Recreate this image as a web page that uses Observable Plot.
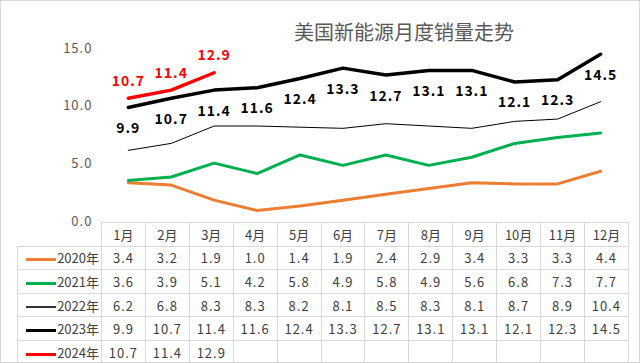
<!DOCTYPE html>
<html><head><meta charset="utf-8">
<script src="https://cdn.jsdelivr.net/npm/d3@7"></script>
<script src="https://cdn.jsdelivr.net/npm/@observablehq/plot@0.6"></script>
<style>
body{margin:0;background:#fff;font-family:"Noto Sans CJK SC","Noto Sans",sans-serif;}
#wrap{position:relative;width:640px;height:363px;box-sizing:border-box;border:1px solid #d9d9d9;overflow:hidden;background:#fff;}
#title{position:absolute;left:0;width:806px;top:16px;text-align:center;font-size:20px;color:#595959;}
#chart{position:absolute;left:-1px;top:-1px;}
#chart svg text{letter-spacing:1px;}
#tbl{position:absolute;left:16px;top:221px;border-collapse:collapse;table-layout:fixed;font-size:13px;color:#404040;}
#tbl td{border:1px solid #d9d9d9;height:22.6px;padding:0;text-align:center;white-space:nowrap;overflow:hidden;letter-spacing:1px;}
#tbl td.blank{border:none;}
#tbl td.leg{text-align:right;padding-right:2px;letter-spacing:0;}
.sw{display:inline-block;width:30px;vertical-align:middle;margin-right:1px;}
</style></head>
<body>
<div id="wrap">
<div id="chart"></div>
<div id="title">美国新能源月度销量走势</div>
<table id="tbl"></table>
</div>
<script>
const months = ["1月","2月","3月","4月","5月","6月","7月","8月","9月","10月","11月","12月"];
const years = ["2020年","2021年","2022年","2023年","2024年"];
const v2020 = [3.4,3.2,1.9,1.0,1.4,1.9,2.4,2.9,3.4,3.3,3.3,4.4];
const v2021 = [3.6,3.9,5.1,4.2,5.8,4.9,5.8,4.9,5.6,6.8,7.3,7.7];
const v2022 = [6.2,6.8,8.3,8.3,8.2,8.1,8.5,8.3,8.1,8.7,8.9,10.4];
const v2023 = [9.9,10.7,11.4,11.6,12.4,13.3,12.7,13.1,13.1,12.1,12.3,14.5];
const v2024 = [10.7,11.4,12.9];
const yTicks = [0,5,10,15];

const seriesValues = [v2020,v2021,v2022,v2023,v2024];
const colors = ["#ED7D31","#00B050","#000000","#000000","#FF0000"];
const widths = [3,3,1,3.5,3.5];

const series = years.map((y,k)=>({
  name:y, color:colors[k], width:widths[k],
  data: seriesValues[k].map((v,i)=>({month:months[i], value:v, series:y}))
}));

const marks = series.map(s => Plot.lineY(s.data,{x:"month",y:"value",stroke:s.color,strokeWidth:s.width}));
marks.push(Plot.text(series[3].data,{x:"month",y:"value",text:d=>d.value.toFixed(1),dy:21,fill:"#000",fontSize:14,fontWeight:"bold"}));
marks.push(Plot.text(series[4].data,{x:"month",y:"value",text:d=>d.value.toFixed(1),dy:-17,fill:"#FF0000",fontSize:14,fontWeight:"bold"}));

const chart = Plot.plot({
  width:640, height:240,
  marginLeft:101, marginRight:13, marginTop:48, marginBottom:18,
  style:{fontFamily:"'Noto Sans CJK SC','Noto Sans',sans-serif", background:"transparent"},
  x:{type:"point", domain:months, padding:0.5, axis:null},
  y:{domain:[0,15], ticks:yTicks, tickFormat:d=>d.toFixed(1), tickSize:0, tickPadding:10, label:null},
  marks:[
    Plot.axisY({ticks:yTicks, tickFormat:d=>d.toFixed(1), tickSize:0, tickPadding:9, fontSize:13, fill:"#595959", label:null}),
    ...marks
  ]
});
document.getElementById("chart").appendChild(chart);

// table
const tbl = document.getElementById("tbl");
const colg = document.createElement("colgroup");
const c0 = document.createElement("col"); c0.style.width="84px"; colg.appendChild(c0);
months.forEach(()=>{const c=document.createElement("col"); c.style.width=(527/12)+"px"; colg.appendChild(c);});
tbl.appendChild(colg);
const hr = document.createElement("tr");
const hb = document.createElement("td"); hb.className="blank"; hr.appendChild(hb);
months.forEach(m=>{const td=document.createElement("td"); td.textContent=m; td.style.letterSpacing="0"; hr.appendChild(td);});
tbl.appendChild(hr);
series.forEach(s=>{
  const tr=document.createElement("tr");
  const lg=document.createElement("td"); lg.className="leg";
  const sw=document.createElement("span"); sw.className="sw";
  sw.style.borderTop=Math.max(2,s.width)+"px solid "+s.color;
  if(s.width<2){sw.style.borderTop="2px solid #333";}
  lg.appendChild(sw); lg.appendChild(document.createTextNode(s.name));
  tr.appendChild(lg);
  months.forEach((m,i)=>{const td=document.createElement("td"); const d=s.data[i]; td.textContent=d?d.value.toFixed(1):""; tr.appendChild(td);});
  tbl.appendChild(tr);
});
</script>
</body></html>
